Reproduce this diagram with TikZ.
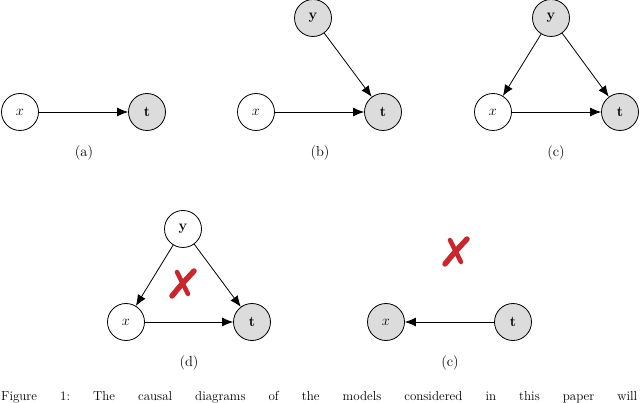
\documentclass[tikz,border=0pt]{standalone}
\usetikzlibrary{arrows.meta}
\definecolor{crossred}{RGB}{200,40,45}
\definecolor{nodegray}{RGB}{220,220,220}
\begin{document}
\frenchspacing
\begin{tikzpicture}[x=1pt,y=-1pt,
  var/.style={circle,draw,line width=0.8pt,minimum size=37pt,inner sep=0pt,font=\fontsize{15}{17}\selectfont},
  obs/.style={var,fill=nodegray},
  edge/.style={-{Latex[length=11pt,width=9pt]},line width=0.8pt},
  lbl/.style={font=\fontsize{14.5}{16}\selectfont},
  crossA/.style={line width=5.5pt,draw=crossred,line cap=round},
  crossB/.style={line width=4.5pt,draw=crossred,line cap=round}]
\useasboundingbox (0,0) rectangle (640,403);
% (a)
\node[var] (ax) at (20,112) {$x$};
\node[obs] (at) at (147,112) {$\mathbf{t}$};
\draw[edge] (ax) -- (at);
\node[lbl] (al) at (84,153) {(a)};
% (b)
\node[obs] (by) at (313,18) {$\mathbf{y}$};
\node[var] (bx) at (256,112) {$x$};
\node[obs] (bt) at (383,112) {$\mathbf{t}$};
\draw[edge] (bx) -- (bt);
\draw[edge] (by) -- (bt);
\node[lbl] (bl) at (320,153) {(b)};
% (c)
\node[obs] (cy) at (551,18) {$\mathbf{y}$};
\node[var] (cx) at (493,112) {$x$};
\node[obs] (ct) at (620,112) {$\mathbf{t}$};
\draw[edge] (cx) -- (ct);
\draw[edge] (cy) -- (ct);
\draw[edge] (cy) -- (cx);
\node[lbl] (cl) at (556,153) {(c)};
% (d)
\node[var] (dy) at (183,229) {$\mathbf{y}$};
\node[var] (dx) at (126,322) {$x$};
\node[obs] (dt) at (252,322) {$\mathbf{t}$};
\draw[edge] (dx) -- (dt);
\draw[edge] (dy) -- (dt);
\draw[edge] (dy) -- (dx);
\node[lbl] (dl) at (189,363) {(d)};
\coordinate (dc) at (183,283);
\draw[crossA] ([shift={(-11,13)}]dc) .. controls ([shift={(-2,2)}]dc) .. ([shift={(11,-12)}]dc);
\draw[crossB] ([shift={(-6,-11)}]dc) .. controls ([shift={(-1,0)}]dc) .. ([shift={(5,11)}]dc);
% (e)
\node[obs] (ex) at (386,322) {$x$};
\node[obs] (et) at (513,322) {$\mathbf{t}$};
\draw[edge] (et) -- (ex);
\node[lbl] (el) at (450,363) {(c)};
\coordinate (ec) at (456,251);
\draw[crossA] ([shift={(-11,13)}]ec) .. controls ([shift={(-2,2)}]ec) .. ([shift={(11,-12)}]ec);
\draw[crossB] ([shift={(-6,-11)}]ec) .. controls ([shift={(-1,0)}]ec) .. ([shift={(5,11)}]ec);
% caption
\node[anchor=base west,inner sep=0pt,font=\fontsize{13}{15}\selectfont] (cap) at (1,400.5)
  {\makebox[636pt][s]{Figure 1: The causal diagrams of the models considered in this paper will}};
\end{tikzpicture}
\end{document}
